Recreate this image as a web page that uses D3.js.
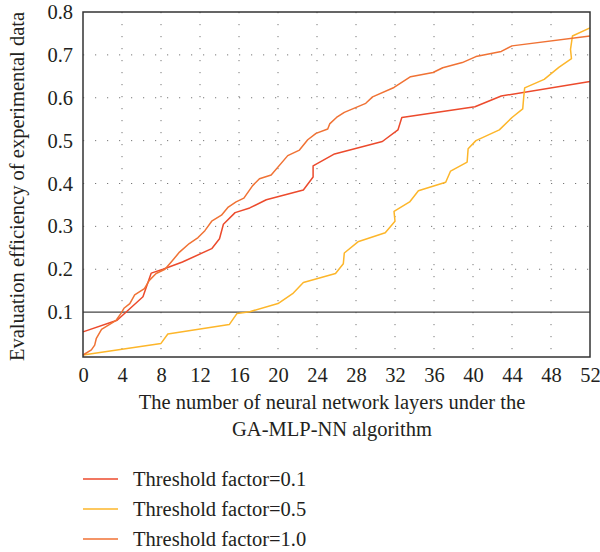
<!DOCTYPE html>
<html>
<head>
<meta charset="utf-8">
<script src="https://cdn.jsdelivr.net/npm/d3@7"></script>
<style>
  html, body { margin: 0; padding: 0; background: #fff; }
  svg { display: block; overflow: visible; }
  text { font-family: "Liberation Serif", "DejaVu Serif", serif; fill: #231f20; }
</style>
</head>
<body>
<svg id="chart" width="600" height="552"></svg>
<script>
// series: [layers, efficiency]
const seriesNames = ["Threshold factor=0.1", "Threshold factor=0.5", "Threshold factor=1.0"];
const seriesColors = ["#ec4a2c", "#fdb62a", "#f07234"];

const factor01 = [
  [0, 0.054], [3.5, 0.081], [6.15, 0.136], [7.0, 0.191], [8.2, 0.2], [10.2, 0.217],
  [13.2, 0.248], [14.0, 0.271], [14.4, 0.305], [15.6, 0.332], [17.1, 0.343],
  [18.8, 0.362], [22.6, 0.385], [23.6, 0.415], [23.6, 0.441], [25.8, 0.469],
  [30.7, 0.498], [32.3, 0.525], [32.7, 0.554], [40.2, 0.579], [42.9, 0.604], [52, 0.638]
];
const factor05 = [
  [0, 0], [8.0, 0.027], [8.7, 0.049], [15.0, 0.071], [15.8, 0.097], [17.1, 0.101],
  [20.0, 0.12], [21.5, 0.143], [22.6, 0.169], [25.9, 0.19], [26.7, 0.213], [26.8, 0.238],
  [28.2, 0.264], [31.0, 0.285], [32.0, 0.312], [31.9, 0.335], [33.5, 0.357], [34.4, 0.383],
  [37.2, 0.403], [37.7, 0.429], [39.4, 0.45], [39.5, 0.481], [40.3, 0.5], [42.7, 0.525],
  [44.0, 0.554], [45.1, 0.574], [45.2, 0.601], [45.3, 0.623], [47.3, 0.643], [48.8, 0.671],
  [50.1, 0.691], [50.0, 0.713], [50.2, 0.744], [52, 0.763]
];
const factor10 = [
  [0, 0], [0.86, 0.012], [1.2, 0.023], [1.37, 0.039], [1.9, 0.06], [3.4, 0.081],
  [3.9, 0.097], [4.2, 0.109], [4.8, 0.12], [5.3, 0.14], [6.3, 0.155], [6.8, 0.174],
  [7.5, 0.19], [8.4, 0.2], [9.05, 0.217], [9.9, 0.24], [10.9, 0.26], [11.8, 0.274],
  [12.5, 0.29], [13.2, 0.312], [14.2, 0.326], [14.9, 0.345], [15.7, 0.357], [16.5, 0.366],
  [17.4, 0.395], [18.1, 0.411], [19.3, 0.42], [21.0, 0.465], [22.2, 0.478], [23.05, 0.502],
  [23.9, 0.517], [25.1, 0.527], [25.3, 0.539], [26.0, 0.554], [26.8, 0.566], [29.0, 0.587],
  [29.7, 0.602], [31.9, 0.624], [33.6, 0.649], [35.9, 0.659], [36.9, 0.67], [38.9, 0.682],
  [40.3, 0.696], [42.9, 0.708], [44.0, 0.721], [52, 0.744]
];
const allSeries = [factor01, factor05, factor10];

const xTicks = d3.range(0, 53, 4);
const yTicks = [0.1, 0.2, 0.3, 0.4, 0.5, 0.6, 0.7, 0.8];
const refLine = 0.1;

const margin = { top: 12, right: 10, bottom: 195, left: 83 };
const svg = d3.select("#chart");
const width = +svg.attr("width");
const height = +svg.attr("height");
const innerWidth = width - margin.left - margin.right;
const innerHeight = height - margin.top - margin.bottom;
const fontSize = 20.5;
const fontFamily = "Liberation Serif, DejaVu Serif, serif";

const x = d3.scaleLinear().domain([0, 52]).range([0, innerWidth]);
const y = d3.scaleLinear().domain([0, 0.8]).range([innerHeight - 2, 0]);

const g = svg.append("g").attr("transform", "translate(" + margin.left + "," + margin.top + ")");

// dotted grid
g.append("g").selectAll("line").data(xTicks.slice(1, -1)).join("line")
    .attr("x1", d => x(d)).attr("x2", d => x(d))
    .attr("y1", 0).attr("y2", innerHeight)
    .attr("stroke", "#777").attr("stroke-width", 1)
    .attr("stroke-dasharray", "1.2,10.8");
g.append("g").selectAll("line").data(yTicks.slice(1, -1)).join("line")
    .attr("x1", 0).attr("x2", innerWidth)
    .attr("y1", d => y(d)).attr("y2", d => y(d))
    .attr("stroke", "#777").attr("stroke-width", 1)
    .attr("stroke-dasharray", "1.2,10.8");

// reference line at 0.1
g.append("line")
    .attr("x1", 0).attr("x2", innerWidth)
    .attr("y1", y(refLine)).attr("y2", y(refLine))
    .attr("stroke", "#444").attr("stroke-width", 1.3);

// axes (labels only)
const xAxis = g.append("g")
    .attr("transform", "translate(0," + innerHeight + ")")
    .call(d3.axisBottom(x).tickValues(xTicks).tickSize(0).tickPadding(10))
    .attr("font-size", fontSize).attr("font-family", fontFamily);
xAxis.select(".domain").remove();
xAxis.selectAll("text").attr("fill", "#231f20");

const yAxis = g.append("g")
    .call(d3.axisLeft(y).tickValues(yTicks).tickSize(0).tickPadding(10).tickFormat(d3.format(".1f")))
    .attr("font-size", fontSize).attr("font-family", fontFamily);
yAxis.select(".domain").remove();
yAxis.selectAll("text").attr("fill", "#231f20");

// lines
const line = d3.line()
    .x(d => x(d[0]))
    .y(d => y(d[1]));

allSeries.forEach((s, i) => {
  g.append("path")
      .datum(s)
      .attr("fill", "none")
      .attr("stroke", seriesColors[i])
      .attr("stroke-width", 1.5)
      .attr("stroke-linejoin", "round")
      .attr("d", line);
});

// frame
g.append("rect")
    .attr("width", innerWidth).attr("height", innerHeight)
    .attr("fill", "none").attr("stroke", "#333").attr("stroke-width", 1.5);

// axis titles
svg.append("text")
    .attr("transform", "translate(24," + (margin.top + innerHeight / 2 + 2) + ") rotate(-90)")
    .attr("text-anchor", "middle")
    .attr("font-size", fontSize)
    .text("Evaluation efficiency of experimental data");

const xTitle = svg.append("text")
    .attr("text-anchor", "middle")
    .attr("font-size", fontSize);
xTitle.append("tspan").attr("x", 332).attr("y", 409).text("The number of neural network layers under the");
xTitle.append("tspan").attr("x", 332).attr("y", 436).text("GA-MLP-NN algorithm");

// legend
const legend = svg.append("g").attr("transform", "translate(83,479)");
seriesNames.forEach((name, i) => {
  const row = legend.append("g").attr("transform", "translate(0," + i * 30 + ")");
  row.append("line")
      .attr("x1", 0).attr("x2", 35)
      .attr("stroke", seriesColors[i]).attr("stroke-width", 1.5);
  row.append("text")
      .attr("x", 50).attr("dy", "0.33em")
      .attr("font-size", fontSize)
      .text(name);
});
</script>
</body>
</html>
